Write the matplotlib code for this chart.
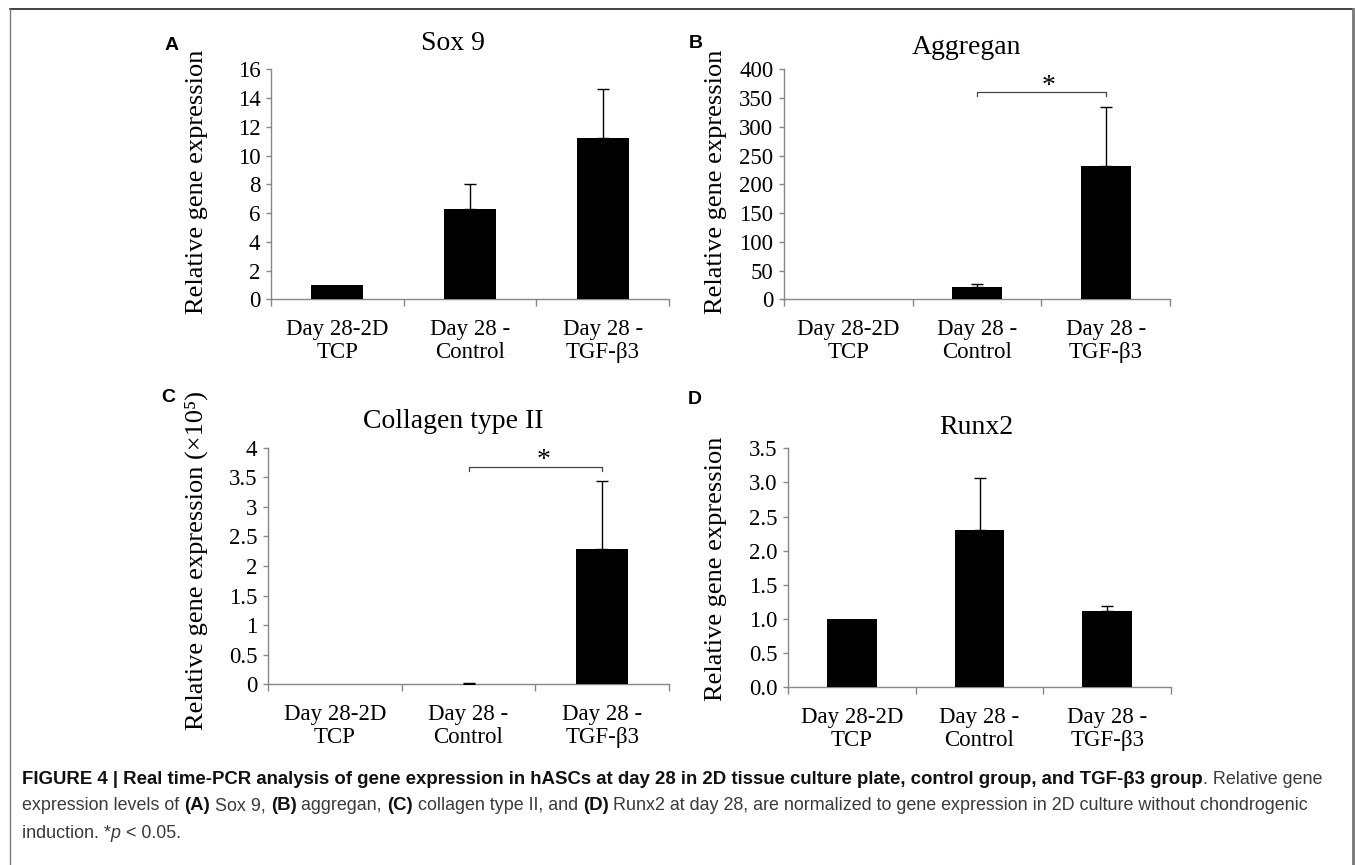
import matplotlib
matplotlib.use("Agg")
import matplotlib.pyplot as plt
from matplotlib.lines import Line2D

plt.rcParams['font.family'] = ['Liberation Serif', 'DejaVu Serif']

# data
groups = ['Day 28-2D\nTCP', 'Day 28 -\nControl', 'Day 28 -\nTGF-\u03b23']

sox9_mean = [1.0, 6.26, 11.2]
sox9_err = [0.0, 1.78, 3.43]

aggrecan_mean = [1.0, 20.9, 231.8]
aggrecan_err = [0.0, 5.7, 102.0]

col2_mean = [0.0, 0.005, 2.28]
col2_err = [0.0, 0.01, 1.15]

runx2_mean = [1.0, 2.30, 1.12]
runx2_err = [0.0, 0.77, 0.07]

titles = ['Sox 9', 'Aggregan', 'Collagen type II', 'Runx2']
panel_letters = ['A', 'B', 'C', 'D']
ylabels = ['Relative gene expression', 'Relative gene expression',
           'Relative gene expression (\u00d710\u2075)', 'Relative gene expression']

W, H = 1355, 865
fig = plt.figure(figsize=(W / 100, H / 100), dpi=100)


def px(x, y):
    return x / W, 1 - y / H


def make_ax(left, top, right, bottom):
    return fig.add_axes([left / W, 1 - bottom / H, (right - left) / W, (bottom - top) / H])


spine_col = '#878787'


def draw_panel(ax, means, errs, ymax, ystep, fmt):
    x = list(range(len(means)))
    ax.bar(x, means, width=0.39, color='black', linewidth=0, zorder=3)
    # only upper error bars, and only where there is one
    idx = [i for i in x if errs[i] > 0]
    ax.errorbar(idx, [means[i] for i in idx],
                yerr=[[0] * len(idx), [errs[i] for i in idx]],
                fmt='none', ecolor='black', elinewidth=1.0, capthick=1.0, capsize=4.3, zorder=3)
    ax.set_xlim(-0.5, 2.5)
    ax.set_ylim(0, ymax)
    n = int(round(ymax / ystep))
    yt = [i * ystep for i in range(n + 1)]
    ax.set_yticks(yt)
    ax.set_yticklabels([fmt(v) for v in yt])
    ax.set_xticks([-0.5, 0.5, 1.5, 2.5])
    ax.set_xticklabels([])
    ax.set_xticks([0, 1, 2], minor=True)
    ax.set_xticklabels(groups, minor=True, fontsize=16.5, linespacing=1.15)
    ax.tick_params(axis='x', which='major', direction='out', length=5, width=1, color=spine_col)
    ax.tick_params(axis='x', which='minor', length=0, pad=14)
    ax.tick_params(axis='y', direction='out', length=3.6, width=1, color=spine_col,
                   labelsize=16.5, pad=4)
    for s in ['top', 'right']:
        ax.spines[s].set_visible(False)
    for s in ['left', 'bottom']:
        ax.spines[s].set_color(spine_col)
        ax.spines[s].set_linewidth(1.0)


def bracket(ax, x0, x1, y, drop, star_x, star_y):
    ax.plot([x0, x0, x1, x1], [y - drop, y, y, y - drop], color='#444444', lw=0.9,
            clip_on=False, zorder=4)
    ax.text(star_x, star_y, '*', ha='center', va='center', fontsize=20)


axA = make_ax(271, 69.3, 669, 299.3)
draw_panel(axA, sox9_mean, sox9_err, 16, 2, lambda v: f'{v:g}')

axB = make_ax(784, 69.3, 1170, 299.3)
draw_panel(axB, aggrecan_mean, aggrecan_err, 400, 50, lambda v: f'{v:g}')
bracket(axB, 1, 2, 360, 6, 1.56, 370)

axC = make_ax(268, 447.7, 669, 684.3)
draw_panel(axC, col2_mean, col2_err, 4, 0.5, lambda v: f'{v:g}')
bracket(axC, 1, 2, 3.67, 0.06, 1.56, 3.78)

axD = make_ax(788, 448.3, 1171, 687.3)
draw_panel(axD, runx2_mean, runx2_err, 3.5, 0.5, lambda v: f'{v:.1f}')

# titles, y labels, panel letters (pixel positions)
title_pos = [(453, 43), (966, 48), (453, 422), (976, 428)]
ylabel_pos = [(197, 182), (716, 182), (196, 561), (716, 569)]
letter_pos = [(172, 45), (696, 44), (168, 397), (695, 400)]
for t, (x, y) in zip(titles, title_pos):
    fig.text(*px(x, y), t, ha='center', va='center', fontsize=20)
for t, (x, y) in zip(ylabels, ylabel_pos):
    fig.text(*px(x, y), t, ha='center', va='center', rotation=90, fontsize=19)
for t, (x, y) in zip(panel_letters, letter_pos):
    fig.text(*px(x, y), t, ha='center', va='center', fontsize=14, fontweight='bold',
             family='Liberation Sans')

# frame around figure
frame = dict(transform=fig.transFigure)
fig.add_artist(Line2D([10 / W, 1353 / W], [1 - 9 / H, 1 - 9 / H], color='#222222', lw=1.2, **frame))
fig.add_artist(Line2D([10 / W, 10 / W], [1 - 9 / H, 0], color='#777777', lw=1.0, **frame))
fig.add_artist(Line2D([1353 / W, 1353 / W], [1 - 9 / H, 0], color='#777777', lw=2.0, **frame))

# caption with mixed weights
renderer = fig.canvas.get_renderer()
bold_size = 13.4
norm_size = 12.9
bold_col = '#111111'
norm_col = '#3a3a3a'


def seg_width(txt, **kw):
    a = fig.text(0, 0, '|' + txt + '|', **kw)
    b = fig.text(0, 0, '||', **kw)
    w = a.get_window_extent(renderer).width - b.get_window_extent(renderer).width
    a.remove()
    b.remove()
    return w


def caption_line(y, segments):
    x = 22
    for txt, style in segments:
        kw = dict(family='Liberation Sans')
        if style == 'b':
            kw.update(fontsize=bold_size, fontweight='bold', color=bold_col)
        elif style == 'i':
            kw.update(fontsize=norm_size, style='italic', color=norm_col)
        else:
            kw.update(fontsize=norm_size, color=norm_col)
        fig.text(*px(x, y), txt, ha='left', va='center', **kw)
        x += seg_width(txt, **kw)


caption_line(779, [('FIGURE 4 | Real time-PCR analysis of gene expression in hASCs at day 28 in 2D '
                    'tissue culture plate, control group, and TGF-\u03b23 group', 'b'),
                   ('. Relative gene', 'n')])
caption_line(806, [('expression levels of ', 'n'), ('(A)', 'b'), (' Sox 9, ', 'n'), ('(B)', 'b'),
                   (' aggregan, ', 'n'), ('(C)', 'b'), (' collagen type II, and ', 'n'),
                   ('(D)', 'b'),
                   (' Runx2 at day 28, are normalized to gene expression in 2D culture without '
                    'chondrogenic', 'n')])
caption_line(833, [('induction. *', 'n'), ('p', 'i'), (' < 0.05.', 'n')])

fig.savefig('out.png', dpi=100)
